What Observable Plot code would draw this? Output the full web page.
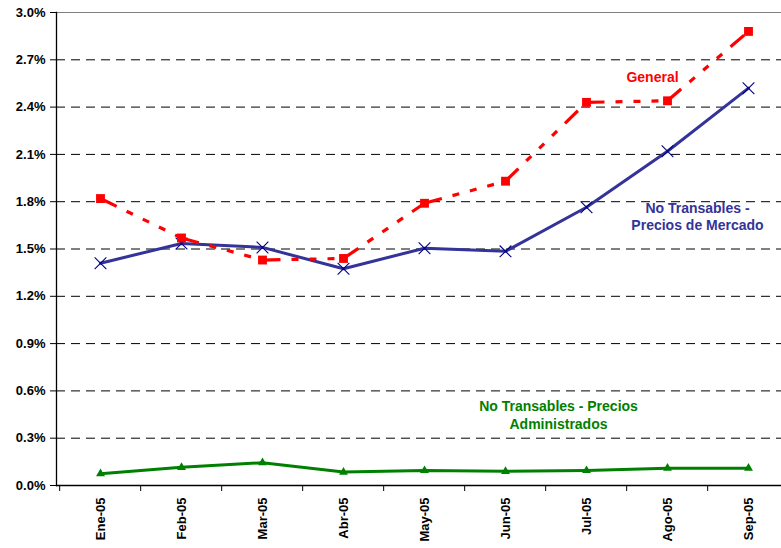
<!DOCTYPE html>
<html>
<head>
<meta charset="utf-8">
<script src="https://cdn.jsdelivr.net/npm/d3@7"></script>
<script src="https://cdn.jsdelivr.net/npm/@observablehq/plot@0.6"></script>
<style>
  html, body { margin: 0; padding: 0; background: #fff; overflow: hidden; }
</style>
</head>
<body>
<div id="chart"></div>
<script>
const months = ["Ene-05", "Feb-05", "Mar-05", "Abr-05", "May-05", "Jun-05", "Jul-05", "Ago-05", "Sep-05"];
const general = [1.82, 1.57, 1.43, 1.44, 1.79, 1.93, 2.43, 2.44, 2.88];
const mercado = [1.41, 1.535, 1.51, 1.375, 1.505, 1.485, 1.765, 2.12, 2.52];
const administrados = [0.075, 0.115, 0.145, 0.085, 0.095, 0.09, 0.095, 0.11, 0.11];
const yTicks = [0, 0.3, 0.6, 0.9, 1.2, 1.5, 1.8, 2.1, 2.4, 2.7, 3.0];
const labelGeneral = "General";
const labelMercado = "No Transables -\nPrecios de Mercado";
const labelAdmin = "No Transables - Precios\nAdministrados";

const RED = "#ff0000", BLUE = "#333399", GREEN = "#008000";

const rows = (vals) => months.map((m, i) => ({m, v: vals[i]}));
const redSegs = months.slice(0, -1).map((m, i) => ({m1: m, m2: months[i + 1], v1: general[i], v2: general[i + 1]}));

const left = 56, right = 791;
const step = (right - left) / months.length;

const chart = Plot.plot({
  width: 781,
  height: 548,
  marginLeft: left,
  marginRight: 0,
  marginTop: 12,
  marginBottom: 63,
  style: {fontFamily: "'Liberation Sans', Arial, sans-serif", fontSize: "13px", fontWeight: "bold", overflow: "hidden", background: "#fff"},
  x: {type: "point", domain: months, range: [left, right], padding: 0.5},
  y: {domain: [0, 3.0], range: [485, 12]},
  marks: [
    Plot.gridY(yTicks.filter(d => d > 0 && d < 3), {stroke: "#000", strokeOpacity: 1, strokeDasharray: "9,6"}),
    Plot.ruleY([3.0], {stroke: "#808080"}),
    Plot.ruleY([0], {stroke: "#000", strokeWidth: 1.3}),
    Plot.frame({anchor: "left", stroke: "#000", strokeWidth: 1.3}),
    Plot.axisY({ticks: yTicks, tickSize: 6, tickPadding: 5, tickFormat: d => d.toFixed(1) + "%", label: null, fill: "#000", fontSize: 13}),
    Plot.axisX({ticks: months, tickSize: 6, tickFormat: () => "", dx: -step / 2, label: null}),
    Plot.axisX({ticks: months, tickSize: 0, tickPadding: 12, tickRotate: -90, label: null, fill: "#000", fontSize: 13}),
    // Administrados
    Plot.line(rows(administrados), {x: "m", y: "v", stroke: GREEN, strokeWidth: 3}),
    Plot.dot(rows(administrados), {x: "m", y: "v", symbol: "triangle", r: 3.3, fill: GREEN}),
    // Mercado
    Plot.line(rows(mercado), {x: "m", y: "v", stroke: BLUE, strokeWidth: 3}),
    Plot.dot(rows(mercado), {x: "m", y: "v", symbol: "times", r: 5.4, stroke: "#000080", strokeWidth: 1.1}),
    // General
    Plot.link(redSegs, {x1: "m1", x2: "m2", y1: "v1", y2: "v2", stroke: RED, strokeWidth: 3.2, strokeDasharray: "18,11,7,11,7,11,7,11"}),
    Plot.dot(rows(general), {x: "m", y: "v", symbol: "square", r: 5, fill: RED}),
    // Labels
    Plot.text([labelGeneral], {x: () => "Ago-05", y: () => 2.59, dx: -15, text: d => d, fill: RED, fontSize: 14}),
    Plot.text([labelMercado], {x: () => "Ago-05", y: () => 1.71, dx: 30, text: d => d, fill: BLUE, fontSize: 14, lineHeight: 1.25}),
    Plot.text([labelAdmin], {x: () => "Jul-05", y: () => 0.45, dx: -28, text: d => d, fill: GREEN, fontSize: 14, lineHeight: 1.28})
  ]
});
document.getElementById("chart").appendChild(chart);
</script>
</body>
</html>
